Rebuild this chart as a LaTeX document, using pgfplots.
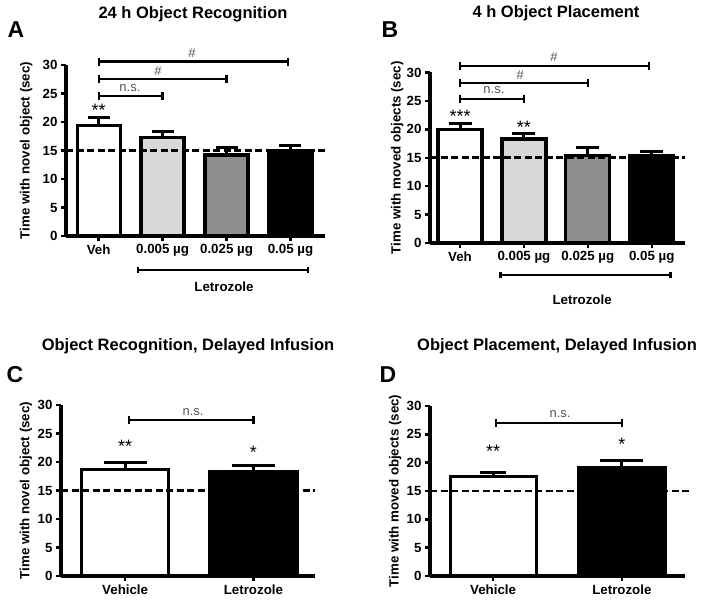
\documentclass[border=0pt]{standalone}
\usepackage{fontspec}
\setmainfont{Liberation Sans}
\usepackage{pgfplots}
\pgfplotsset{compat=1.18}
\definecolor{lgray}{RGB}{216,216,216}
\definecolor{mgray}{RGB}{142,142,142}
\definecolor{txtgray}{RGB}{85,85,85}
\newcommand{\tfnt}{\fontsize{13.3}{15}\selectfont\bfseries}
\newcommand{\nsfnt}{\fontsize{13}{15}\selectfont}
\newcommand{\stfnt}{\fontsize{18}{18}\selectfont}
\pgfplotsset{
 panel/.style={
  scale only axis, axis lines=left, axis line style={-, line width=3.2pt},
  ymin=0, ymax=30, ytick={0,5,...,30},
  tick align=outside, major tick length=5pt,
  tick style={black, line width=2.4pt},
  clip=false,
  /pgf/number format/assume math mode=true,
  tick label style={font=\tfnt},
  ylabel style={font=\tfnt, anchor=center},
 },
 bar/.style={ybar, bar shift=0pt, draw=black, line width=3.2pt,
  error bars/y dir=plus, error bars/y explicit,
  error bars/error mark=|,
  error bars/error bar style={line width=3pt, solid},
  error bars/error mark options={line width=3pt, mark size=#1}},
 refl/.style={black, line width=2.6pt, dash pattern=on 7pt off 3.5pt},
 brk/.style={black, line width=2.2pt, mark=|, mark size=4pt},
 lbrk/.style={black, line width=2.4pt, mark=|, mark size=3pt},
}
\begin{document}
\begin{tikzpicture}
\useasboundingbox (0,0) rectangle (704pt,602pt);
% titles and letters
\node[font=\fontsize{16.5}{18}\selectfont\bfseries] at (193pt,588pt) {24 h Object Recognition};
\node[font=\fontsize{16.5}{18}\selectfont\bfseries] at (556pt,589pt) {4 h Object Placement};
\node[font=\fontsize{16.5}{18}\selectfont\bfseries] at (188pt,256pt) {Object Recognition, Delayed Infusion};
\node[font=\fontsize{16.5}{18}\selectfont\bfseries] at (557pt,256pt) {Object Placement, Delayed Infusion};
\node[font=\fontsize{23}{25}\selectfont\bfseries] at (16pt,572pt) {A};
\node[font=\fontsize{23}{25}\selectfont\bfseries] at (390pt,572pt) {B};
\node[font=\fontsize{23}{25}\selectfont\bfseries] at (15pt,227pt) {C};
\node[font=\fontsize{23}{25}\selectfont\bfseries] at (388pt,227pt) {D};

% Panel A
\begin{axis}[panel, at={(66pt,366pt)}, anchor=south west, width=259pt, height=171pt,
  xmin=-0.51, xmax=3.54, xtick={0,1,2,3}, xticklabels={Veh,0.005 µg,0.025 µg,0.05 µg},
  ylabel={Time with novel object (sec)}, ylabel style={at={(axis description cs:-0.154,0.5)}}]
\addplot[bar=11pt, fill=white, bar width=43pt] coordinates {(0,19.45) +- (0,1.3)};
\addplot[bar=11pt, fill=lgray, bar width=43pt] coordinates {(1,17.3) +- (0,1.1)};
\addplot[bar=11pt, fill=mgray, bar width=43pt] coordinates {(2,14.2) +- (0,1.3)};
\addplot[bar=11pt, fill=black, bar width=43pt] coordinates {(3,14.9) +- (0,0.9)};
\addplot[refl] coordinates {(-0.51,15) (3.54,15)};
\addplot[brk] coordinates {(0,24.5) (1,24.5)};
\addplot[brk] coordinates {(0,27.5) (2,27.5)};
\addplot[brk] coordinates {(0,30.6) (2.96,30.6)};
\node[font=\nsfnt, text=txtgray, anchor=base, yshift=5pt] at (axis cs:0.49,24.5) {n.s.};
\node[font=\nsfnt, text=txtgray, anchor=base, yshift=4pt] at (axis cs:0.93,27.5) {\#};
\node[font=\nsfnt, text=txtgray, anchor=base, yshift=4pt] at (axis cs:1.46,30.6) {\#};
\node[font=\stfnt, anchor=base] at (axis cs:0,20.9) {**};
\addplot[lbrk] coordinates {(0.62,-5.96) (3.27,-5.96)};
\node[font=\tfnt] at (axis cs:1.96,-8.9) {Letrozole};
\end{axis}

% Panel B
\begin{axis}[panel, at={(430pt,359pt)}, anchor=south west, width=255pt, height=170.5pt,
  xmin=-0.47, xmax=3.52, xtick={0,1,2,3}, xticklabels={Veh,0.005 µg,0.025 µg,0.05 µg},
  ylabel={Time with moved objects (sec)}, ylabel style={at={(axis description cs:-0.129,0.5)}}]
\addplot[bar=11.5pt, fill=white, bar width=44pt] coordinates {(0,20.0) +- (0,1.1)};
\addplot[bar=11.5pt, fill=lgray, bar width=44pt] coordinates {(1,18.3) +- (0,0.9)};
\addplot[bar=11.5pt, fill=mgray, bar width=44pt] coordinates {(2,15.4) +- (0,1.4)};
\addplot[bar=11.5pt, fill=black, bar width=44pt] coordinates {(3,15.3) +- (0,0.8)};
\addplot[refl] coordinates {(-0.47,15) (3.52,15)};
\addplot[brk] coordinates {(0,25.4) (1,25.4)};
\addplot[brk] coordinates {(0,28.1) (2,28.1)};
\addplot[brk] coordinates {(0,31.2) (2.96,31.2)};
\node[font=\nsfnt, text=txtgray, anchor=base, yshift=5pt] at (axis cs:0.53,25.4) {n.s.};
\node[font=\nsfnt, text=txtgray, anchor=base, yshift=4pt] at (axis cs:0.94,28.1) {\#};
\node[font=\nsfnt, text=txtgray, anchor=base, yshift=4pt] at (axis cs:1.47,31.2) {\#};
\node[font=\stfnt, anchor=base] at (axis cs:0,21.2) {***};
\node[font=\stfnt, anchor=base] at (axis cs:1,19.2) {**};
\addplot[lbrk] coordinates {(0.63,-5.63) (3.29,-5.63)};
\node[font=\tfnt] at (axis cs:1.91,-9.9) {Letrozole};
\end{axis}

% Panel C
\begin{axis}[panel, at={(61pt,26pt)}, anchor=south west, width=254pt, height=171pt,
  xmin=-0.5, xmax=1.48, xtick={0,1}, xticklabels={Vehicle,Letrozole},
  ylabel={Time with novel object (sec)}, ylabel style={at={(axis description cs:-0.138,0.5)}}]
\addplot[bar=21.5pt, fill=white, bar width=87pt] coordinates {(0,18.75) +- (0,1.15)};
\addplot[bar=21.5pt, fill=black, bar width=87pt] coordinates {(1,18.3) +- (0,1.0)};
\addplot[refl] coordinates {(-0.5,15) (1.48,15)};
\addplot[brk] coordinates {(0.03,27.3) (1,27.3)};
\node[font=\nsfnt, text=txtgray, anchor=base, yshift=5pt] at (axis cs:0.53,27.3) {n.s.};
\node[font=\stfnt, anchor=base] at (axis cs:0,21.6) {**};
\node[font=\stfnt, anchor=base] at (axis cs:1,20.7) {*};
\end{axis}

% Panel D
\begin{axis}[panel, at={(430pt,26pt)}, anchor=south west, width=255pt, height=170pt,
  xmin=-0.49, xmax=1.49, xtick={0,1}, xticklabels={Vehicle,Letrozole},
  ylabel={Time with moved objects (sec)}, ylabel style={at={(axis description cs:-0.137,0.5)}}]
\addplot[bar=13pt, fill=white, bar width=86pt] coordinates {(0,17.5) +- (0,0.75)};
\addplot[bar=21.5pt, fill=black, bar width=87pt] coordinates {(1,19.1) +- (0,1.2)};
\addplot[refl] coordinates {(-0.49,15) (1.53,15)};
\addplot[brk] coordinates {(0.02,27.05) (1,27.05)};
\node[font=\nsfnt, text=txtgray, anchor=base, yshift=5pt] at (axis cs:0.52,27.05) {n.s.};
\node[font=\stfnt, anchor=base] at (axis cs:0,20.9) {**};
\node[font=\stfnt, anchor=base] at (axis cs:1,22.2) {*};
\end{axis}
\end{tikzpicture}
\end{document}
